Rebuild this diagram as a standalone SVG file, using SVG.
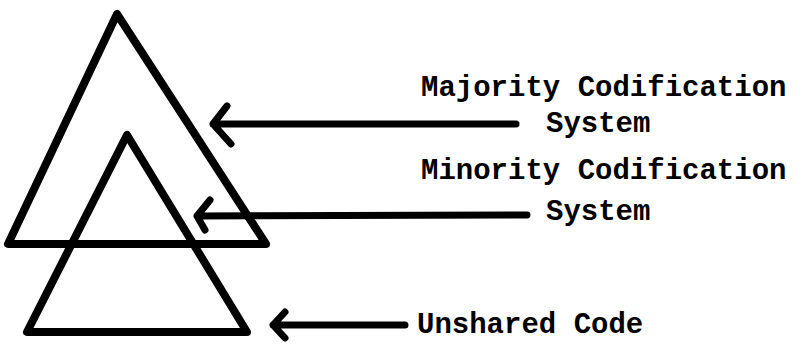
<svg xmlns="http://www.w3.org/2000/svg" width="800" height="345" viewBox="0 0 800 345">
  <style>
    .tri { fill: none; stroke: #000; stroke-width: 8; stroke-linejoin: round; }
    .arr { fill: none; stroke: #000; stroke-width: 7; stroke-linecap: round; stroke-linejoin: round; }
    .lbl { font-family: "Liberation Mono", "Courier New", monospace; font-weight: bold; font-size: 29px; fill: #000; }
  </style>
  <rect width="800" height="345" fill="#fff"/>

  <g id="majority-triangle">
    <polygon class="tri" points="117,14 8,244 266,244"/>
  </g>
  <g id="minority-triangle">
    <polygon class="tri" points="127,135 27,332 247,332"/>
  </g>

  <g id="connectors">
    <path class="arr" d="M516,124 L213,124 M227,106 L213,124 L231,144"/>
    <path class="arr" d="M527,215 L197,216 M210,200 L197,216 L205,230"/>
    <path class="arr" d="M405,325 L273,325 M285,312 L273,325 L285,338"/>
  </g>

  <g id="label-majority">
    <text class="lbl" x="421" y="96">Majority Codification</text>
    <text class="lbl" x="546" y="132">System</text>
  </g>
  <g id="label-minority">
    <text class="lbl" x="421" y="179">Minority Codification</text>
    <text class="lbl" x="546" y="220">System</text>
  </g>
  <g id="label-unshared">
    <text class="lbl" x="417" y="333">Unshared Code</text>
  </g>
</svg>
